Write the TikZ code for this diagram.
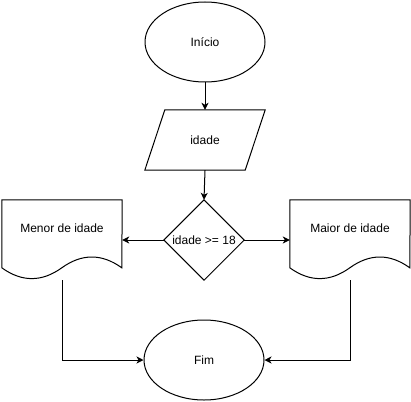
\documentclass[tikz,border=0pt]{standalone}
\usepackage{fontspec}
\setmainfont{Liberation Sans}
\usetikzlibrary{shapes.geometric,arrows.meta,calc}
\tikzset{
  every node/.style={font=\fontsize{12}{14}\selectfont, inner sep=0pt},
  term/.style={draw, ellipse, minimum width=120pt, minimum height=80pt, line width=1pt},
  boxarea/.style={rectangle, minimum width=#1, minimum height=80pt},
  conn/.style={line width=1pt, -{Stealth[length=7pt,width=7pt,inset=2pt]}},
  shapeline/.style={line width=1pt, line join=miter}
}
\newcommand\drawdoc[1]{%
  \draw[shapeline] (#1.north west) -- (#1.north east) -- ($(#1.north west)+(120,68)$)
    .. controls ($(#1.north west)+(100,53.6)$) and ($(#1.north west)+(80,53.6)$) .. ($(#1.north west)+(60,68)$)
    .. controls ($(#1.north west)+(40,82.4)$) and ($(#1.north west)+(20,82.4)$) .. ($(#1.north west)+(0,68)$)
    -- cycle;}
\begin{document}
\begin{tikzpicture}[x=1pt,y=-1pt]
\useasboundingbox (0,0) rectangle (411,401);
% nodes
\node[term] (inicio) at (205,42) {Início};
\node[boxarea=120pt, minimum height=60pt] (idade) at (205,140) {idade};
\draw[shapeline] ([xshift=20pt]idade.north west) -- (idade.north east) -- ([xshift=-20pt]idade.south east) -- (idade.south west) -- cycle;
\node[boxarea=80pt] (dec) at (204,240) {idade >= 18};
\draw[shapeline] (dec.north) -- (dec.east) -- (dec.south) -- (dec.west) -- cycle;
\node[boxarea=120pt] (menor) at (62,240) {};
\drawdoc{menor}
\node (menorT) at (62,228) {Menor de idade};
\node[boxarea=120pt] (maior) at (350,240) {};
\drawdoc{maior}
\node (maiorT) at (350,228) {Maior de idade};
\node[term] (fim) at (204,360) {Fim};
% connectors
\draw[conn] (inicio.south) -- (idade.north);
\draw[conn] (idade.south) -- (dec.north);
\draw[conn] (dec.west) -- (menor.east);
\draw[conn] (dec.east) -- (maior.west);
\draw[conn] (menor.south) |- (fim.west);
\draw[conn] (maior.south) |- (fim.east);
\end{tikzpicture}
\end{document}
